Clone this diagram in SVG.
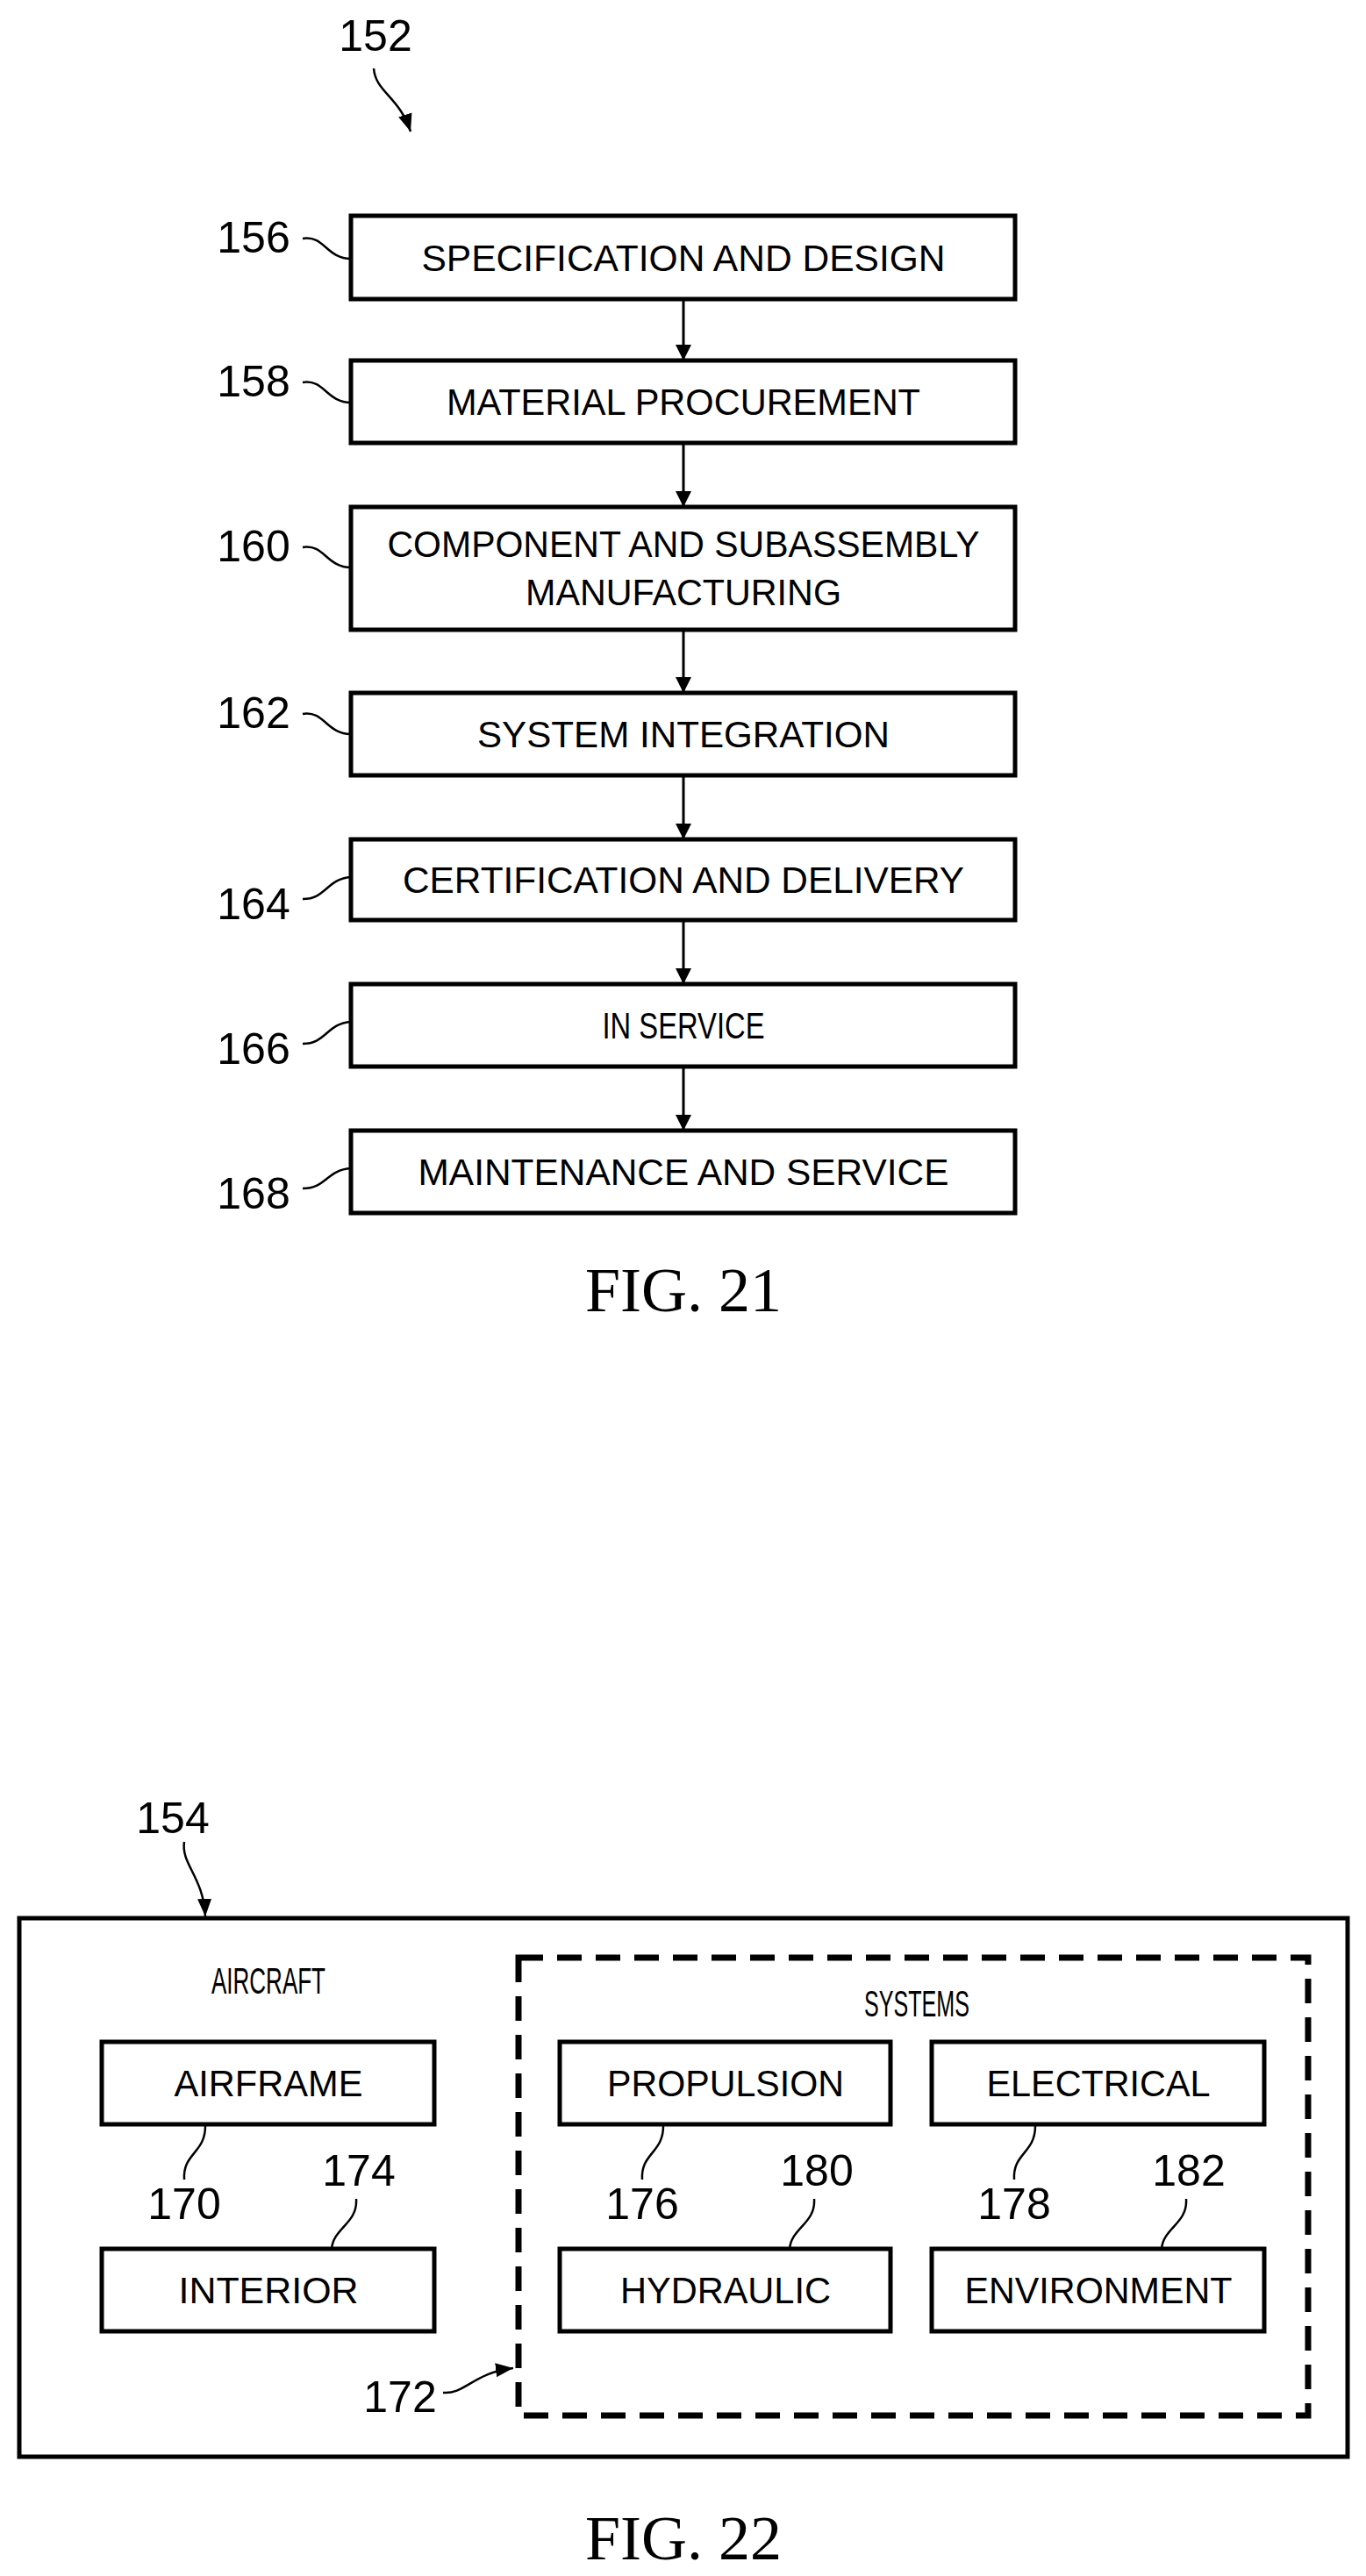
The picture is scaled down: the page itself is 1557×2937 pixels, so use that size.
<svg xmlns="http://www.w3.org/2000/svg" width="1557" height="2937" viewBox="0 0 1557 2937">
<style>
.b{fill:#fff;stroke:#000;stroke-width:5}
.t{font-family:"Liberation Sans Narrow","Liberation Sans",Arial,sans-serif;font-size:42px;text-anchor:middle;fill:#000}
.n{font-family:"Liberation Sans Narrow","Liberation Sans",Arial,sans-serif;font-size:50px;text-anchor:middle;fill:#000}
.f{font-family:"Liberation Serif","Times New Roman",serif;font-size:72px;text-anchor:middle;fill:#000}
.l{fill:none;stroke:#000;stroke-width:2.5}
.c{fill:none;stroke:#000;stroke-width:3}
</style>
<defs>
<marker id="a" viewBox="0 0 10 10" refX="10" refY="5" markerWidth="6" markerHeight="6" orient="auto" markerUnits="strokeWidth"><path d="M0,0L10,5L0,10z" fill="#000"/></marker>
<marker id="h" viewBox="0 0 10 10" refX="10" refY="5" markerWidth="8" markerHeight="8" orient="auto" markerUnits="strokeWidth"><path d="M0,1L10,5L0,9z" fill="#000"/></marker>
</defs>
<g id="fig21">
<text class="n" x="428" y="58">152</text>
<path class="l" d="M426,78 C428,105 455,110 468,150" marker-end="url(#h)"/>
<g id="n156"><rect class="b" x="400" y="246" width="757" height="95"/><text class="t" x="779" y="309" textLength="597" lengthAdjust="spacingAndGlyphs">SPECIFICATION AND DESIGN</text><text class="n" x="289" y="288">156</text><path class="l" d="M345,272 C370,268 372,295 400,295"/></g>
<g id="n158"><rect class="b" x="400" y="411" width="757" height="94"/><text class="t" x="779" y="473" textLength="540" lengthAdjust="spacingAndGlyphs">MATERIAL PROCUREMENT</text><text class="n" x="289" y="452">158</text><path class="l" d="M345,436 C370,432 372,459 400,459"/></g>
<g id="n160"><rect class="b" x="400" y="578" width="757" height="140"/><text class="t" x="779" y="635" textLength="675" lengthAdjust="spacingAndGlyphs">COMPONENT AND SUBASSEMBLY</text><text class="t" x="779" y="690" textLength="360" lengthAdjust="spacingAndGlyphs">MANUFACTURING</text><text class="n" x="289" y="640">160</text><path class="l" d="M345,624 C370,620 372,647 400,647"/></g>
<g id="n162"><rect class="b" x="400" y="790" width="757" height="94"/><text class="t" x="779" y="852" textLength="470" lengthAdjust="spacingAndGlyphs">SYSTEM INTEGRATION</text><text class="n" x="289" y="830">162</text><path class="l" d="M345,814 C370,810 372,837 400,837"/></g>
<g id="n164"><rect class="b" x="400" y="957" width="757" height="92"/><text class="t" x="779" y="1018" textLength="640" lengthAdjust="spacingAndGlyphs">CERTIFICATION AND DELIVERY</text><text class="n" x="289" y="1048">164</text><path class="l" d="M345,1025 C372,1025 372,1002 400,1000"/></g>
<g id="n166"><rect class="b" x="400" y="1122" width="757" height="94"/><text class="t" x="779" y="1184" textLength="185" lengthAdjust="spacingAndGlyphs">IN SERVICE</text><text class="n" x="289" y="1213">166</text><path class="l" d="M345,1190 C372,1190 372,1167 400,1165"/></g>
<g id="n168"><rect class="b" x="400" y="1289" width="757" height="94"/><text class="t" x="779" y="1351" textLength="605" lengthAdjust="spacingAndGlyphs">MAINTENANCE AND SERVICE</text><text class="n" x="289" y="1378">168</text><path class="l" d="M345,1355 C372,1355 372,1334 400,1332"/></g>
<g id="edges21">
<path class="c" d="M779,341V411" marker-end="url(#a)"/>
<path class="c" d="M779,505V578" marker-end="url(#a)"/>
<path class="c" d="M779,718V790" marker-end="url(#a)"/>
<path class="c" d="M779,884V957" marker-end="url(#a)"/>
<path class="c" d="M779,1049V1122" marker-end="url(#a)"/>
<path class="c" d="M779,1216V1289" marker-end="url(#a)"/>
</g>
<text class="f" x="779" y="1495">FIG. 21</text>
</g>
<g id="fig22">
<text class="n" x="197" y="2090">154</text>
<path class="l" d="M210,2100 C206,2125 232,2140 234,2185" marker-end="url(#h)"/>
<g id="n154"><rect class="b" x="22" y="2187" width="1514" height="614"/><text class="t" x="306" y="2273" textLength="130" lengthAdjust="spacingAndGlyphs">AIRCRAFT</text></g>
<g id="n172"><rect x="591" y="2232" width="900" height="522" fill="none" stroke="#000" stroke-width="7" stroke-dasharray="28,16"/><text class="t" x="1045" y="2299" textLength="120" lengthAdjust="spacingAndGlyphs">SYSTEMS</text><text class="n" x="456" y="2750">172</text><path class="l" d="M505,2728 C530,2730 540,2705 585,2700" marker-end="url(#h)"/></g>
<g id="n170"><rect class="b" x="116" y="2328" width="379" height="94"/><text class="t" x="306" y="2390" textLength="215" lengthAdjust="spacingAndGlyphs">AIRFRAME</text><text class="n" x="210" y="2530">170</text><path class="l" d="M234,2424 C234,2455 208,2455 210,2485"/></g>
<g id="n174"><rect class="b" x="116" y="2564" width="379" height="94"/><text class="t" x="306" y="2626" textLength="205" lengthAdjust="spacingAndGlyphs">INTERIOR</text><text class="n" x="409" y="2492">174</text><path class="l" d="M406,2507 C408,2535 380,2540 378,2564"/></g>
<g id="n176"><rect class="b" x="638" y="2328" width="377" height="94"/><text class="t" x="827" y="2390" textLength="270" lengthAdjust="spacingAndGlyphs">PROPULSION</text><text class="n" x="732" y="2530">176</text><path class="l" d="M756,2424 C756,2455 730,2455 732,2485"/></g>
<g id="n180"><rect class="b" x="638" y="2564" width="377" height="94"/><text class="t" x="827" y="2626" textLength="240" lengthAdjust="spacingAndGlyphs">HYDRAULIC</text><text class="n" x="931" y="2492">180</text><path class="l" d="M928,2507 C930,2535 902,2540 900,2564"/></g>
<g id="n178"><rect class="b" x="1062" y="2328" width="379" height="94"/><text class="t" x="1252" y="2390" textLength="255" lengthAdjust="spacingAndGlyphs">ELECTRICAL</text><text class="n" x="1156" y="2530">178</text><path class="l" d="M1180,2424 C1180,2455 1154,2455 1156,2485"/></g>
<g id="n182"><rect class="b" x="1062" y="2564" width="379" height="94"/><text class="t" x="1252" y="2626" textLength="305" lengthAdjust="spacingAndGlyphs">ENVIRONMENT</text><text class="n" x="1355" y="2492">182</text><path class="l" d="M1352,2507 C1354,2535 1326,2540 1324,2564"/></g>
<text class="f" x="779" y="2918">FIG. 22</text>
</g>
</svg>
